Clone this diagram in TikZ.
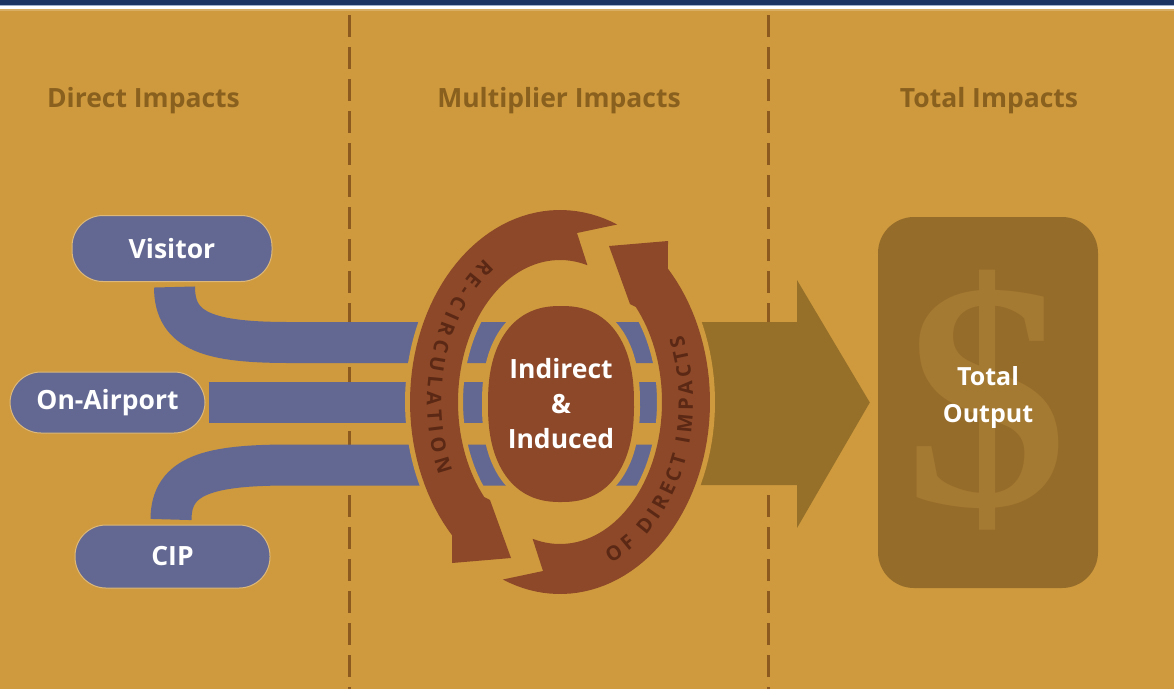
\documentclass[tikz,border=0pt]{standalone}
\usepackage{fontspec}
\setmainfont{Open Sans}
\newfontfamily\dollarfont{Liberation Serif}
\usetikzlibrary{decorations.text,calc}
\definecolor{bgc}{HTML}{CF9A3E}
\definecolor{navyc}{HTML}{1C3461}
\definecolor{paleblue}{HTML}{9FB0CC}
\definecolor{bluec}{HTML}{626892}
\definecolor{brownc}{HTML}{8C4828}
\definecolor{olivec}{HTML}{967028}
\definecolor{boxc}{HTML}{966C2A}
\definecolor{dollarc}{HTML}{A47932}
\definecolor{headc}{HTML}{8A601E}
\definecolor{arctxt}{HTML}{5A2814}
\definecolor{divc}{HTML}{8C5A1E}
\newcommand\arcfont{\fontsize{20}{20}\selectfont\bfseries\color{arctxt}}
\newcommand\myCycleArrow{%
  \fill[cyc] ({560+150*cos(-67.6)},{402+192*sin(-67.6)})
    -- plot[domain=-67.6:-224, samples=60] ({560+150*cos(\x)},{402+192*sin(\x)})
    -- (452,563) -- (511,558) -- (490,500)
    -- plot[domain=-222:-74.4, samples=60] ({560+102*cos(\x)},{402+142*sin(\x)})
    -- (577,233) -- cycle;}
\tikzset{
  divider/.style={draw=divc, line width=3, dash pattern=on 22pt off 10pt},
  heading/.style={text=headc, font=\fontsize{26.5}{27}\selectfont\bfseries, anchor=base, inner sep=0},
  pill/.style={fill=bluec, draw=bgc!70!white, line width=1, rounded corners=31, text=white,
    font=\fontsize{26.5}{27}\selectfont\bfseries, inner sep=0},
  band/.style={draw=bluec, line width=41},
  cyc/.style={fill=brownc, preaction={draw=bgc, line width=10, line join=round}},
  whitetext/.style={text=white, align=center, inner sep=0},
}
\begin{document}
\begin{tikzpicture}[x=1pt,y=-1pt]
\useasboundingbox (0,0) rectangle (1174,689);
\fill[bgc] (0,0) rectangle (1174,689);
\fill[navyc] (0,0) rectangle (1174,4.5);
\fill[white] (0,4.5) rectangle (1174,9);
\fill[paleblue] (0,4.5) rectangle (1174,5.8);
\fill[bgc!80!white] (0,9) rectangle (1174,10.5);
% dividers
\draw[divider] (349,15) -- (349,689);
\draw[divider] (768,15) -- (768,689);
% headings
\node[heading] (h1) at (143.5,107) {Direct Impacts};
\node[heading] (h2) at (559,107) {Multiplier Impacts};
\node[heading] (h3) at (989,107) {Total Impacts};
% pills
\node[pill, minimum width=200, minimum height=66] (visitor) at (172,248.5) {Visitor};
\node[pill, minimum width=195, minimum height=61] (onair) at (107.5,402.5) {On-Airport};
\node[pill, minimum width=195, minimum height=63] (cip) at (172.5,556.5) {CIP};
% bands
\coordinate (core) at (561,404);
\draw[band] ($(visitor.south)+(2.5,5)$) .. controls +(0,45) and +(-80,0) .. (290,342.5) -- (665,342.5);
\draw[band] ($(onair.east)+(3,0)$) -- (665,402.5);
\draw[band] ($(cip.north)+(-1.5,-5)$) .. controls +(0,-45) and +(-80,0) .. (290,465) -- (665,465);
% total box
\node[fill=boxc, rounded corners=36, minimum width=220, minimum height=371, inner sep=0] (total) at (988,402.5) {};
\node[text=dollarc, font=\dollarfont\bfseries\fontsize{325}{325}\selectfont, inner sep=0] (dollar) at (987,400) {\$};
\node[whitetext, font=\fontsize{25}{37}\selectfont\bfseries] (totaltext) at (988,397) {Total\\Output};
% big arrow
\fill[olivec] (700,322) -- (797,322) -- (797,280) -- ($(total.west)+(-8,0)$) -- (797,528) -- (797,485) -- (700,485) -- cycle;
% cycle arrows
\myCycleArrow
\begin{scope}[rotate around={180:(560,402)}]
\myCycleArrow
\end{scope}
% core
\fill[brownc, preaction={draw=bgc, line width=12}]
  plot[domain=1:361, samples=61, smooth cycle] ({561+73*sign(cos(\x))*abs(cos(\x))^0.85}, {404+98*sign(sin(\x))*abs(sin(\x))^0.85});
\node[whitetext, font=\fontsize{26.5}{35}\selectfont\bfseries] (coretext) at (core) {Indirect\\\&\\Induced};
% arc labels
\path[decorate, decoration={text along path, text={|\arcfont|RE-CIRCULATION}, text align={fit to path}, raise=-7pt}]
  plot[domain=-124:-205, samples=60] ({560+126*cos(\x)},{402+167*sin(\x)});
\path[decorate, decoration={text along path, text={|\arcfont|OF DIRECT IMPACTS}, text align={fit to path}, raise=-7pt}]
  plot[domain=68:-23, samples=60] ({560+126*cos(\x)},{402+167*sin(\x)});
\end{tikzpicture}
\end{document}
